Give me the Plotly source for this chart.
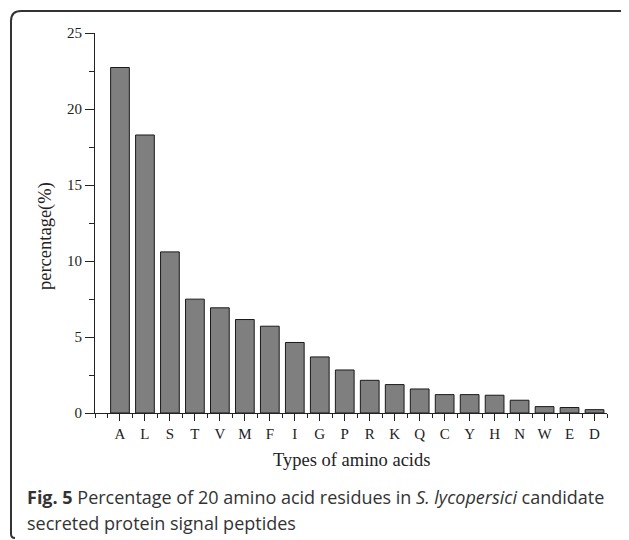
import plotly.graph_objects as go

amino_acids = ["A", "L", "S", "T", "V", "M", "F", "I", "G", "P",
               "R", "K", "Q", "C", "Y", "H", "N", "W", "E", "D"]
percentages = [22.73, 18.29, 10.60, 7.49, 6.92, 6.15, 5.71, 4.64, 3.69, 2.83,
               2.15, 1.87, 1.58, 1.21, 1.21, 1.17, 0.84, 0.42, 0.36, 0.22]
y_tick_vals = [0, 5, 10, 15, 20, 25]

OFF = 8  # page body margin
W, H = 629 - OFF, 540 - OFF
# plot area in screenshot pixels: x 95..606.7, y 33.3..412.7
L = 95 - OFF
T = 33 - OFF
R = W - (607 - OFF)
B = H - (413 - OFF)
pw, ph = W - L - R, H - T - B

def px(x):
    return (x - OFF - L) / pw

def py(y):
    return (H - B - (y - OFF)) / ph

xpos = list(range(len(amino_acids)))

fig = go.Figure(go.Bar(
    x=xpos, y=percentages, width=0.75,
    marker=dict(color="#7f7f7f", line=dict(color="#1a1a1a", width=1)),
))

minor_x = [-1] + [i + 0.5 for i in range(-1, len(amino_acids))]

fig.update_layout(
    width=W, height=H,
    margin=dict(l=L, r=R, t=T, b=B, pad=0),
    paper_bgcolor="white", plot_bgcolor="white",
    showlegend=False,
    font=dict(family="Liberation Serif", size=14, color="#222"),
    xaxis=dict(
        range=[-1, len(amino_acids) - 0.5],
        tickmode="array", tickvals=xpos, ticktext=amino_acids,
        ticks="outside", ticklen=7, tickwidth=1, tickcolor="#222",
        showline=True, linecolor="#222", linewidth=1,
        showgrid=False, zeroline=False,
        minor=dict(tickmode="array", tickvals=minor_x, ticks="outside",
                   ticklen=4, tickwidth=1, tickcolor="#222", showgrid=False),
        tickfont=dict(family="Liberation Serif", size=15, color="#222"),
    ),
    yaxis=dict(
        range=[0, 25],
        tickmode="array", tickvals=y_tick_vals,
        ticks="outside", ticklen=9, tickwidth=1, tickcolor="#222",
        showline=True, linecolor="#222", linewidth=1,
        showgrid=False, zeroline=False,
        minor=dict(tickmode="linear", tick0=0, dtick=2.5, ticks="outside",
                   ticklen=5, tickwidth=1, tickcolor="#222", showgrid=False),
        tickfont=dict(family="Liberation Serif", size=15, color="#222"),
    ),
)

# Axis titles
fig.add_annotation(xref="paper", yref="paper", x=px(351), y=py(460),
                   xanchor="center", yanchor="middle",
                   text="Types of amino acids", showarrow=False,
                   font=dict(family="Liberation Serif", size=18.5, color="#222"))
fig.add_annotation(xref="paper", yref="paper", x=px(45), y=py(236),
                   xanchor="center", yanchor="middle",
                   text="percentage(%)", textangle=-90, showarrow=False,
                   font=dict(family="Liberation Serif", size=18.5, color="#222"))

# Caption
fig.add_annotation(xref="paper", yref="paper", x=px(25), y=py(497),
                   xanchor="left", yanchor="middle", showarrow=False,
                   text="<b>Fig. 5</b> Percentage of 20 amino acid residues in <i>S. lycopersici</i> candidate",
                   font=dict(family="Open Sans", size=18, color="#333"))
fig.add_annotation(xref="paper", yref="paper", x=px(25), y=py(523),
                   xanchor="left", yanchor="middle", showarrow=False,
                   text="secreted protein signal peptides",
                   font=dict(family="Open Sans", size=18, color="#333"))

# Rounded border box (left, top edges; right/bottom run off the page)
x0, y0, x1, y1, r = 11, 11, 627, 538, 10
path = (f"M {px(x0 + 4)},{py(y1)} Q {px(x0)},{py(y1)} {px(x0)},{py(y1 - 4)} "
        f"L {px(x0)},{py(y0 + r)} "
        f"Q {px(x0)},{py(y0)} {px(x0 + r)},{py(y0)} "
        f"L {px(x1 - 4)},{py(y0)} Q {px(x1)},{py(y0)} {px(x1)},{py(y0 + 4)}")
fig.add_shape(type="path", xref="paper", yref="paper", path=path,
              line=dict(color="#333", width=2))

fig.write_html("out.html")
